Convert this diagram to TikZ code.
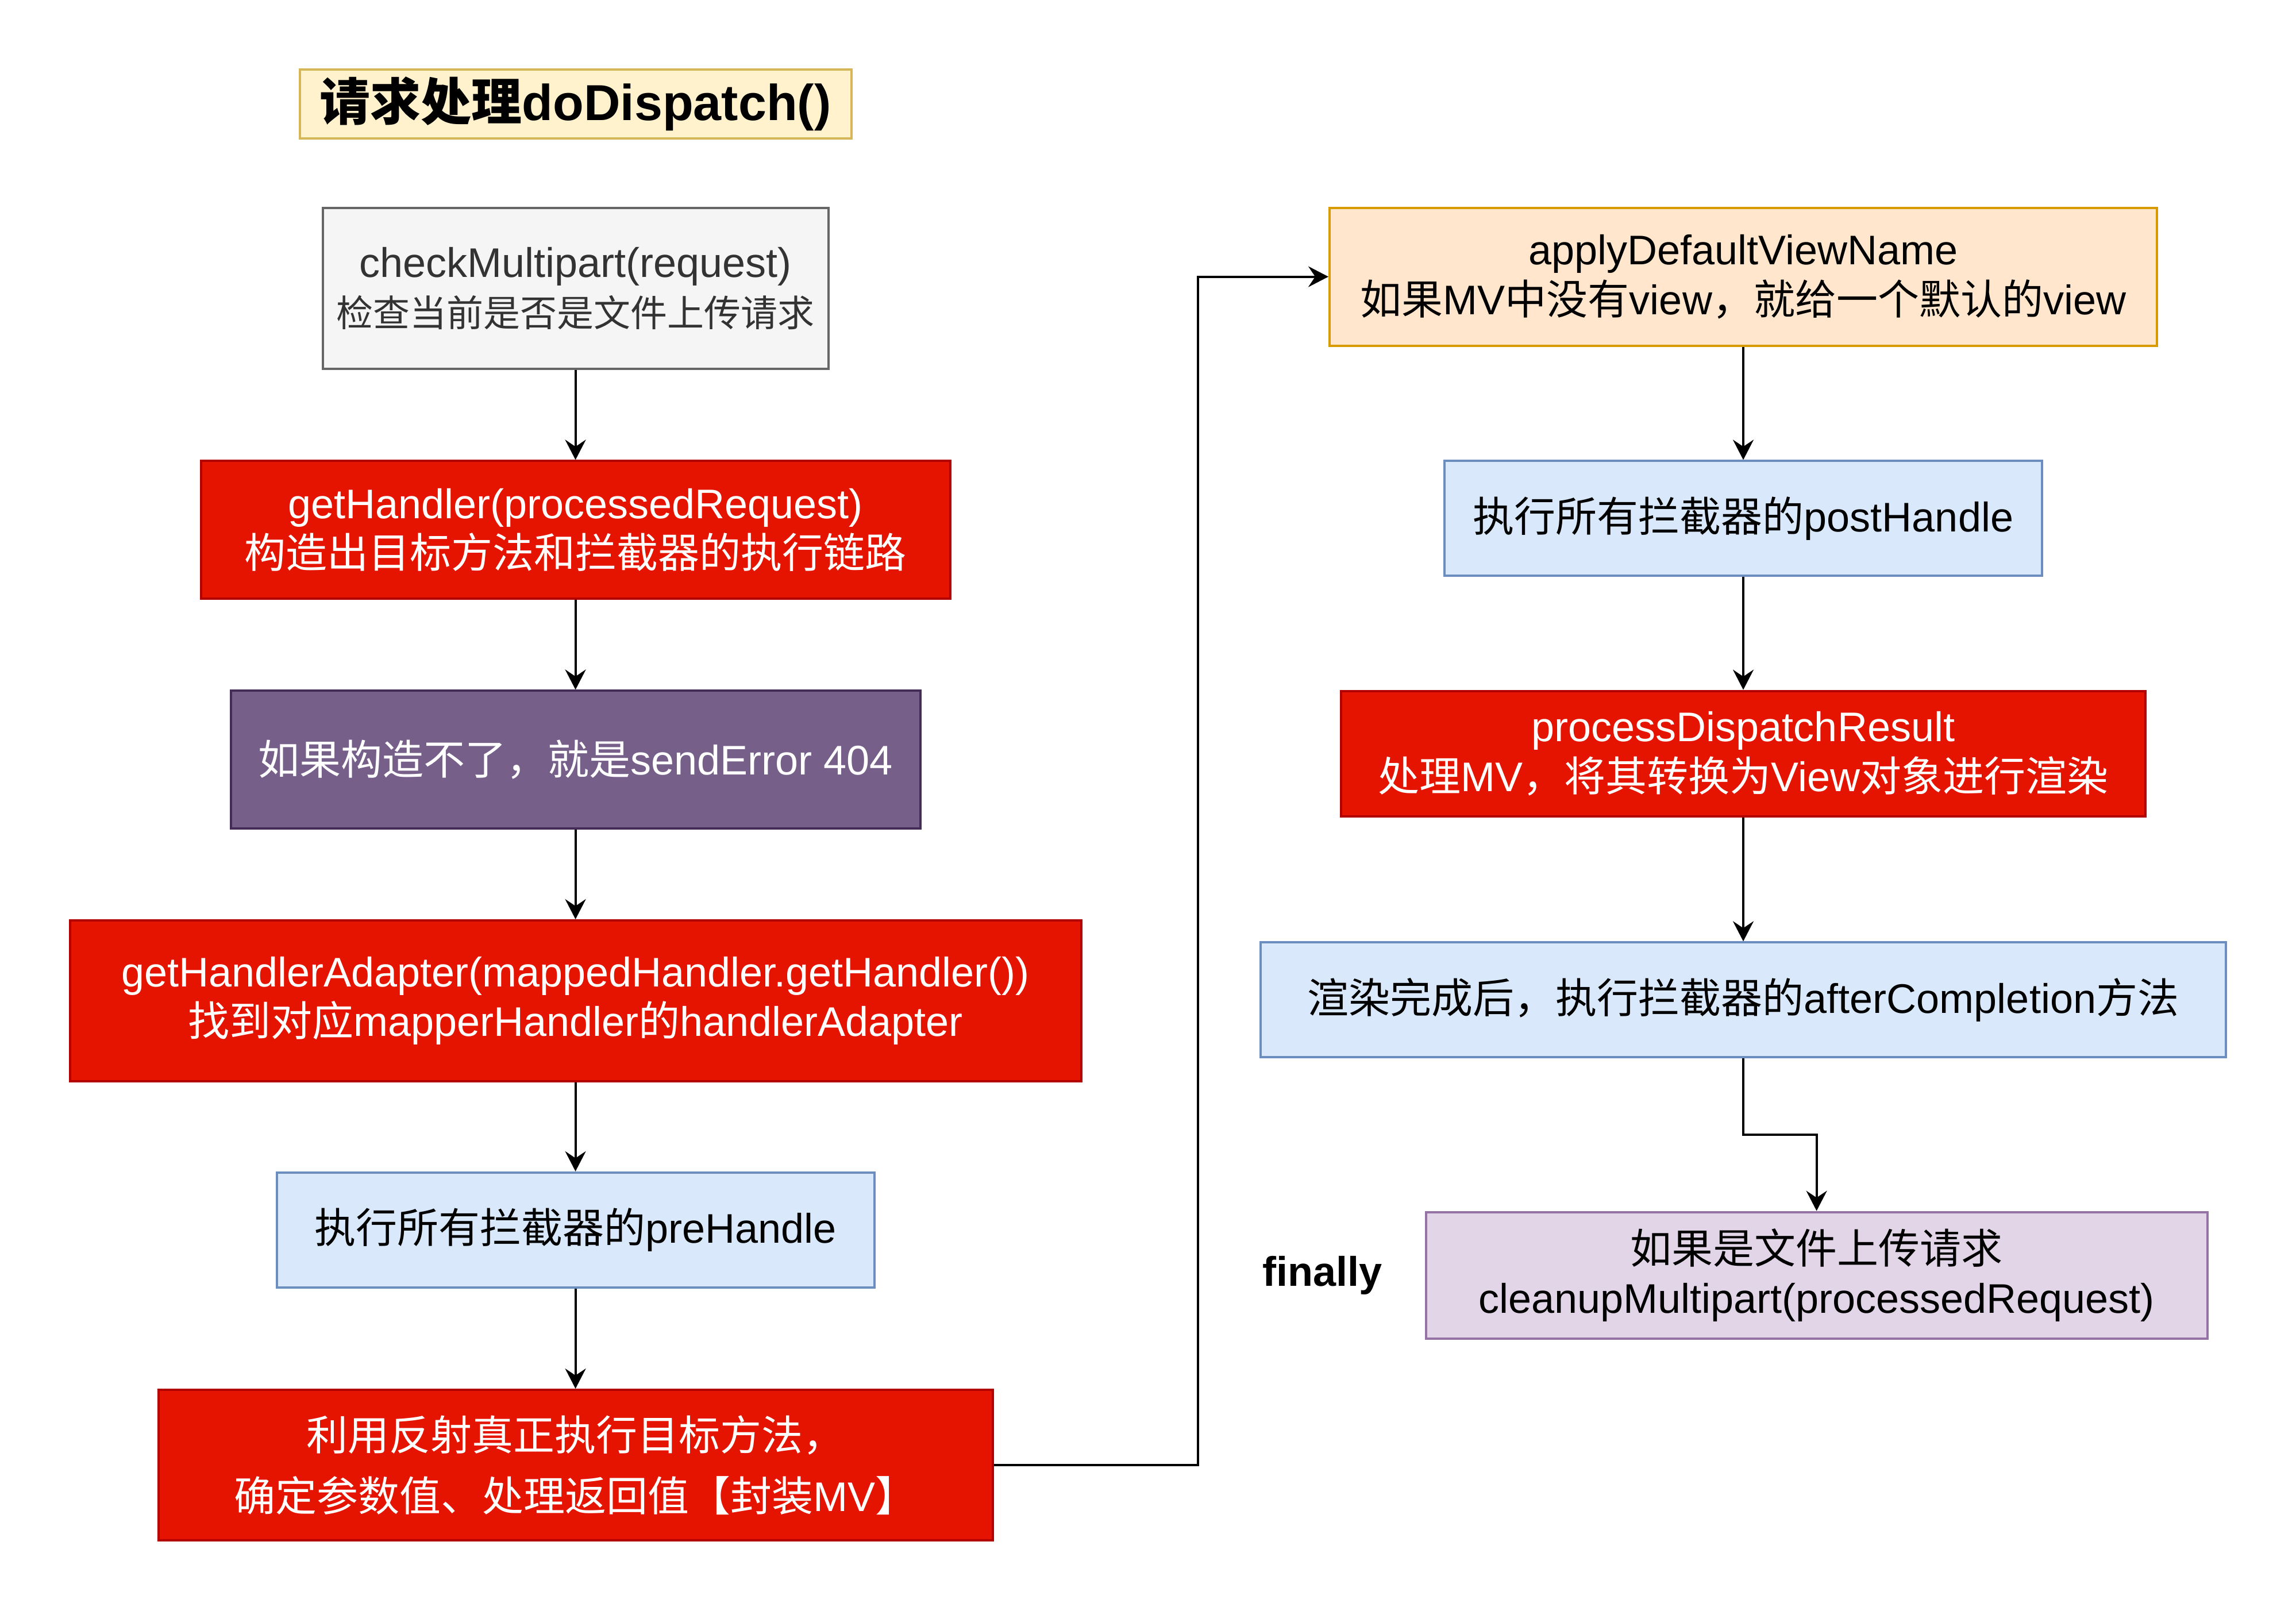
\documentclass[tikz,border=0pt]{standalone}
\usepackage{fontspec}
\setmainfont{Liberation Sans}
\newfontfamily\cjk{Noto Sans CJK SC}
\usetikzlibrary{arrows.meta}
\newcommand\zh[1]{{\cjk #1}}

\definecolor{titlefill}{HTML}{FFF2CC}\definecolor{titleline}{HTML}{D6B656}
\definecolor{grayfill}{HTML}{F5F5F5}\definecolor{grayline}{HTML}{666666}\definecolor{graytext}{HTML}{333333}
\definecolor{redfill}{HTML}{E51400}\definecolor{redline}{HTML}{B20000}
\definecolor{violetfill}{HTML}{76608A}\definecolor{violetline}{HTML}{432D57}
\definecolor{bluefill}{HTML}{DAE8FC}\definecolor{blueline}{HTML}{6C8EBF}
\definecolor{orangefill}{HTML}{FFE6CC}\definecolor{orangeline}{HTML}{D79B00}
\definecolor{lilacfill}{HTML}{E1D5E7}\definecolor{lilacline}{HTML}{9673A6}

\tikzset{
  base/.style={rectangle, draw, line width=1pt, inner sep=0pt, align=center,
    font=\fontsize{18}{21.6}\selectfont},
  sz/.style 2 args={minimum width=#1pt, minimum height=#2pt},
  titlebox/.style={base, fill=titlefill, draw=titleline, font=\fontsize{22}{26}\selectfont\bfseries},
  graybox/.style={base, fill=grayfill, draw=grayline, text=graytext},
  redbox/.style={base, fill=redfill, draw=redline, text=white},
  violetbox/.style={base, fill=violetfill, draw=violetline, text=white},
  bluebox/.style={base, fill=bluefill, draw=blueline, text=black},
  orangebox/.style={base, fill=orangefill, draw=orangeline, text=black},
  lilacbox/.style={base, fill=lilacfill, draw=lilacline, text=black},
  arr/.style={draw=black, line width=1pt, -{Stealth[length=8.75pt, width=9pt, inset=3pt]}},
}

\begin{document}
\begin{tikzpicture}[x=1pt, y=-1pt]
\useasboundingbox[fill=white] (0,0) rectangle (999,701);

% left column
\node[titlebox, sz={240}{30}] (title) at (250.4,45.25) {\zh{请求处理}doDispatch()};
\node[graybox, sz={220}{70}] (check) at (250.4,125.5) {checkMultipart(request)\\{\fontsize{16}{19.2}\selectfont\zh{检查当前是否是文件上传请求}}};
\node[redbox, sz={326}{60}] (handler) at (250.4,230.6) {getHandler(processedRequest)\\\zh{构造出目标方法和拦截器的执行链路}};
\node[violetbox, sz={300}{60}] (notfound) at (250.4,330.6) {\zh{如果构造不了，就是}sendError 404};
\node[redbox, sz={440}{70}] (adapter) at (250.4,435.5) {getHandlerAdapter(mappedHandler.getHandler())\\\zh{找到对应}mapperHandler\zh{的}handlerAdapter};
\node[bluebox, sz={260}{50}] (pre) at (250.4,535.2) {\zh{执行所有拦截器的}preHandle};
\node[redbox, sz={363}{65.5}] (invoke) at (250.4,637.5) {\zh{利用反射真正执行目标方法，}\\[5pt]\zh{确定参数值、处理返回值【封装}MV\zh{】}};

% right column
\node[orangebox, sz={360}{60}] (viewname) at (758.5,120.4) {applyDefaultViewName\\\zh{如果}MV\zh{中没有}view\zh{，就给一个默认的}view};
\node[bluebox, sz={260}{50}] (post) at (758.5,225.6) {\zh{执行所有拦截器的}postHandle};
\node[redbox, sz={350}{54.5}] (result) at (758.5,327.9) {processDispatchResult\\\zh{处理}MV\zh{，将其转换为}View\zh{对象进行渲染}};
\node[bluebox, sz={420}{50}] (after) at (758.5,435.1) {\zh{渲染完成后，执行拦截器的}afterCompletion\zh{方法}};
\node[lilacbox, sz={340}{55}] (cleanup) at (790.4,554.9) {\zh{如果是文件上传请求}\\cleanupMultipart(processedRequest)};
\node[font=\fontsize{18}{21.6}\selectfont\bfseries, inner sep=0pt] (fin) at (575.3,555) {finally};

% connectors
\draw[arr] (check) -- (handler);
\draw[arr] (handler) -- (notfound);
\draw[arr] (notfound) -- (adapter);
\draw[arr] (adapter) -- (pre);
\draw[arr] (pre) -- (invoke);
\coordinate (bridge) at (521.2,0);
\draw[arr] (invoke.east) -- (invoke.east -| bridge) |- (viewname.west);
\draw[arr] (viewname) -- (post);
\draw[arr] (post) -- (result);
\draw[arr] (result) -- (after);
\coordinate (turn) at (0,493.8);
\draw[arr] (after.south) -- (after.south |- turn) -| (cleanup.north);
\end{tikzpicture}
\end{document}
